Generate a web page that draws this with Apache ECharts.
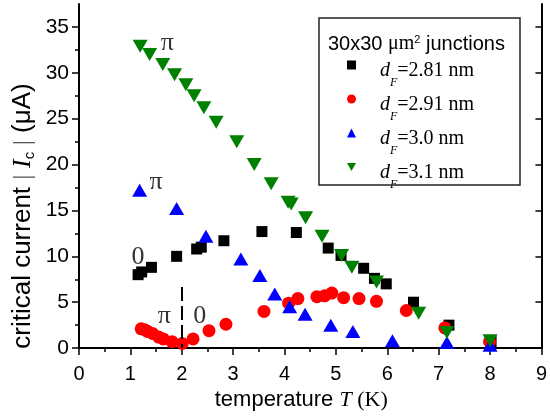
<!DOCTYPE html>
<html>
<head>
<meta charset="utf-8">
<script src="https://cdn.jsdelivr.net/npm/echarts@6/dist/echarts.min.js"></script>
<style>
html,body{margin:0;padding:0;background:#fff;}
#chart{width:550px;height:416px;}
</style>
</head>
<body>
<div id="chart"></div>
<script>
// ---- data ----
const tempBlack = [1.15, 1.22, 1.41, 1.90, 2.29, 2.38, 2.82, 3.56, 4.23, 4.85, 5.10, 5.54, 5.75, 5.98, 6.51, 7.20, 8.02];
const icBlack   = [8.0, 8.3, 8.8, 10.0, 10.8, 11.0, 11.7, 12.7, 12.6, 10.9, 10.1, 8.7, 7.6, 7.0, 5.0, 2.5, 0.7];

const tempRed = [1.21, 1.28, 1.34, 1.43, 1.55, 1.64, 1.81, 2.01, 2.22, 2.53, 2.86, 3.60, 4.08, 4.26, 4.63, 4.78, 4.92, 5.15, 5.45, 5.79, 6.37, 7.12, 7.99];
const icRed   = [2.1, 2.0, 1.8, 1.6, 1.2, 1.0, 0.7, 0.5, 1.0, 1.9, 2.6, 4.0, 4.9, 5.4, 5.6, 5.7, 6.0, 5.5, 5.4, 5.1, 4.1, 2.2, 0.7];

const tempBlue = [1.18, 1.90, 2.47, 3.15, 3.52, 3.81, 4.10, 4.40, 4.90, 5.33, 6.10, 7.16, 8.00];
const icBlue   = [17.2, 15.2, 12.2, 9.7, 7.9, 5.9, 4.5, 3.7, 2.5, 1.8, 0.8, 0.6, 0.3];

const tempGreen = [1.19, 1.375, 1.63, 1.86, 2.08, 2.24, 2.43, 2.67, 3.07, 3.41, 3.74, 4.07, 4.13, 4.41, 4.73, 5.11, 5.31, 5.79, 6.61, 7.16, 8.00];
const icGreen   = [32.9, 32.0, 30.9, 29.8, 28.7, 27.5, 26.2, 24.6, 22.5, 20.0, 17.9, 15.9, 15.7, 14.2, 12.2, 10.1, 8.8, 7.2, 3.8, 1.7, 0.8];

const seriesNames = ['2.81', '2.91', '3.0', '3.1'];

const xTicks = [0, 1, 2, 3, 4, 5, 6, 7, 8, 9];
const yTicks = [0, 5, 10, 15, 20, 25, 30, 35];
const yMinorTicks = [2.5, 7.5, 12.5, 17.5, 22.5, 27.5, 32.5];

// annotations (phase labels)
const annotX = [1.72, 1.50, 1.15, 1.66, 2.35];
const annotY = [33.2, 18.1, 9.9, 3.5, 3.5];
const annotText = ['π', 'π', '0', 'π', '0'];

// 0-π transition marker
const dashT = 2;
const dashTop = 6.65;

// ---- chart ----
const zip = (a, b) => a.map((v, i) => [v, b[i]]);
const chart = echarts.init(document.getElementById('chart'), null, {renderer: 'canvas'});

const axisLineStyle = {color: '#000', width: 2};
const tickLineStyle = {color: '#000', width: 1.5};
const sans = 'Liberation Sans, Arial, sans-serif';
const serif = 'Liberation Serif, Times New Roman, serif';

const option = {
  animation: false,
  backgroundColor: '#fff',
  grid: {left: 79, right: 4, top: 4, bottom: 67, containLabel: false},
  title: {
    text: '{a|30x30 }{mu|μm}{sup|2}{a| junctions}',
    left: 328, top: 34, padding: 0,
    textStyle: {
      fontWeight: 'normal',
      rich: {
        a: {fontFamily: sans, fontSize: 20, lineHeight: 20, verticalAlign: 'top', color: '#000'},
        mu: {fontFamily: serif, fontSize: 20, lineHeight: 20, verticalAlign: 'top', color: '#000'},
        sup: {fontFamily: sans, fontSize: 11, lineHeight: 11, verticalAlign: 'top', color: '#000'}
      }
    }
  },
  legend: {
    orient: 'vertical',
    left: 347, top: 55, padding: 0,
    itemWidth: 9, itemHeight: 9, itemGap: 0,
    selectedMode: false,
    data: [
      {name: seriesNames[0], icon: 'rect'},
      {name: seriesNames[1], icon: 'circle'},
      {name: seriesNames[2], icon: 'triangle'},
      {name: seriesNames[3], icon: 'path://M0,0 L10,0 L5,9 Z'}
    ],
    itemStyle: {opacity: 1},
    formatter: name => '{i|d}{s|F}{n|=' + name + ' nm}',
    textStyle: {
      rich: {
        i: {fontFamily: serif, fontStyle: 'italic', fontSize: 20, lineHeight: 20, verticalAlign: 'top', padding: [6, 0, 0, 19], color: '#000'},
        s: {fontFamily: serif, fontStyle: 'italic', fontSize: 12, lineHeight: 12, verticalAlign: 'top', padding: [22, 0, 0, 0], color: '#000'},
        n: {fontFamily: serif, fontSize: 20, lineHeight: 20, verticalAlign: 'top', padding: [6, 0, 0, 0], color: '#000'}
      }
    }
  },
  graphic: [
    {
      type: 'rect', z: 100,
      shape: {x: 319, y: 18, width: 201, height: 167},
      style: {fill: 'none', stroke: '#222', lineWidth: 1.5}
    },
    {
      type: 'text', x: 23, y: 216, rotation: Math.PI / 2,
      style: {
        text: '{a|critical current }{b|| }{i|I}{s|c}{b| |}{a| (μA)}',
        textAlign: 'center', textVerticalAlign: 'middle',
        align: 'center', verticalAlign: 'middle',
        rich: {
          a: {fontFamily: sans, fontSize: 26, lineHeight: 26, verticalAlign: 'top', fill: '#000', color: '#000'},
          b: {fontFamily: serif, fontSize: 26, lineHeight: 26, verticalAlign: 'top', fill: '#555', color: '#555'},
          i: {fontFamily: serif, fontStyle: 'italic', fontSize: 26, lineHeight: 26, verticalAlign: 'top', fill: '#000', color: '#000'},
          s: {fontFamily: sans, fontSize: 15, lineHeight: 15, verticalAlign: 'top', padding: [12, 0, 0, 0], fill: '#000', color: '#000'}
        }
      }
    }
  ],
  xAxis: [
    {
      type: 'value', position: 'bottom', min: 0, max: 9, interval: 1,
      axisLine: {lineStyle: axisLineStyle},
      axisTick: {length: 7, lineStyle: tickLineStyle},
      minorTick: {show: true, splitNumber: 2, length: 4, lineStyle: tickLineStyle},
      splitLine: {show: false}, minorSplitLine: {show: false},
      axisLabel: {fontFamily: sans, fontSize: 20, color: '#000', margin: 16, formatter: v => xTicks.includes(v) ? String(v) : ''},
      name: '{a|temperature }{i|T}{b| (K)}',
      nameLocation: 'middle', nameGap: 34,
      nameTextStyle: {
        padding: [0, 18, 0, 0],
        rich: {
          a: {fontFamily: sans, fontSize: 22, lineHeight: 24, color: '#000'},
          i: {fontFamily: serif, fontStyle: 'italic', fontSize: 22, lineHeight: 24, color: '#000'},
          b: {fontFamily: serif, fontSize: 22, lineHeight: 24, color: '#000'}
        }
      }
    },
    {
      type: 'value', position: 'top', min: 0, max: 9, interval: 1,
      axisLine: {lineStyle: axisLineStyle},
      axisTick: {inside: true, length: 6, lineStyle: tickLineStyle},
      minorTick: {show: true, splitNumber: 2, length: 4, lineStyle: tickLineStyle},
      axisLabel: {show: false}, splitLine: {show: false}
    }
  ],
  yAxis: [
    {
      type: 'value', position: 'left', min: 0, max: 37.5, interval: 5,
      axisLine: {lineStyle: axisLineStyle},
      axisTick: {length: 7, lineStyle: tickLineStyle, customValues: yTicks},
      axisLabel: {fontFamily: sans, fontSize: 21, color: '#000', margin: 10, customValues: yTicks},
      splitLine: {show: false}
    },
    {
      type: 'value', position: 'left', min: 0, max: 37.5, interval: 2.5,
      axisLine: {show: false},
      axisTick: {length: 4, lineStyle: tickLineStyle, customValues: yMinorTicks},
      axisLabel: {show: false}, splitLine: {show: false}
    },
    {
      type: 'value', position: 'right', min: 0, max: 37.5, interval: 5,
      axisLine: {lineStyle: axisLineStyle},
      axisTick: {inside: true, length: 6, lineStyle: tickLineStyle, customValues: yTicks.slice(1)},
      axisLabel: {show: false}, splitLine: {show: false}
    }
  ],
  series: [
    {
      name: seriesNames[0], type: 'scatter', xAxisIndex: 0, yAxisIndex: 0,
      symbol: 'rect', symbolSize: 11,
      itemStyle: {color: '#000000', opacity: 1},
      data: zip(tempBlack, icBlack)
    },
    {
      name: seriesNames[1], type: 'scatter', xAxisIndex: 0, yAxisIndex: 0,
      symbol: 'circle', symbolSize: 13,
      itemStyle: {color: '#ff0000', opacity: 1},
      data: zip(tempRed, icRed),
      markLine: {
        silent: true, symbol: ['none', 'none'], label: {show: false},
        lineStyle: {type: [14, 5], color: '#000', width: 2, opacity: 1},
        data: [[{coord: [dashT, dashTop]}, {coord: [dashT, 0]}]]
      }
    },
    {
      name: seriesNames[2], type: 'scatter', xAxisIndex: 0, yAxisIndex: 0,
      symbol: 'triangle', symbolSize: [15, 13],
      itemStyle: {color: '#0000ff', opacity: 1},
      data: zip(tempBlue, icBlue)
    },
    {
      name: seriesNames[3], type: 'scatter', xAxisIndex: 0, yAxisIndex: 0,
      symbol: 'triangle', symbolSize: [15, 13], symbolRotate: 180,
      itemStyle: {color: '#008000', opacity: 1},
      data: zip(tempGreen, icGreen)
    },
    {
      name: 'annotations', type: 'scatter', xAxisIndex: 0, yAxisIndex: 0,
      symbolSize: 1, itemStyle: {color: 'rgba(0,0,0,0)'}, silent: true,
      label: {show: true, position: 'inside', formatter: p => p.value[2], fontFamily: serif, fontSize: 26, color: '#000'},
      data: annotX.map((x, i) => [x, annotY[i], annotText[i]])
    }
  ]
};
chart.setOption(option);
</script>
</body>
</html>
